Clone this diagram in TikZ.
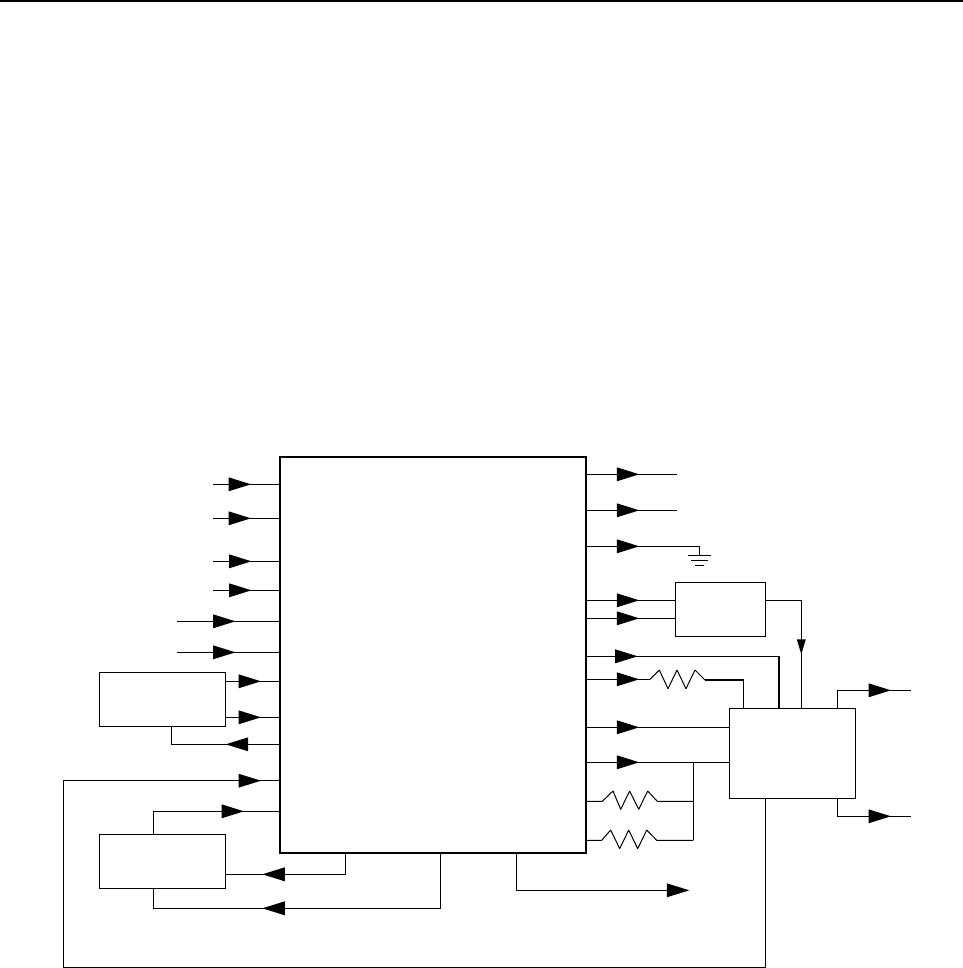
\documentclass[tikz,border=0pt]{standalone}
\tikzset{
  wire/.style={line width=0.85pt,line cap=butt,line join=miter},
  resistorwire/.style={line width=0.75pt,line join=bevel},
  chip/.style={draw,line width=1.6pt,outer sep=0pt,inner sep=0pt},
  block/.style={draw,line width=0.9pt,outer sep=0pt,inner sep=0pt},
  pics/headr/.style={code={\fill (1,0) -- (-21.5,-7) -- (-21.5,7) -- cycle;}},
  pics/headl/.style={code={\fill (-1,0) -- (21.5,-7) -- (21.5,7) -- cycle;}},
  pics/headd/.style={code={\fill (0,1) -- (-4.5,-14) -- (4.5,-14) -- cycle;}}
}
\begin{document}
\begin{tikzpicture}[x=0.75pt,y=-0.75pt]
\useasboundingbox (0,0) rectangle (963,968);
% top rule
\coordinate (ruleL) at (0,1);
\coordinate (ruleR) at (963,1);
\draw[line width=1.5pt] (ruleL) -- (ruleR);
% blocks
\node[chip,minimum width=305.7*0.75pt,minimum height=396*0.75pt,anchor=north west] (main) at (280,457) {};
\node[block,minimum width=126*0.75pt,minimum height=54*0.75pt,anchor=north west] (boxA) at (99.3,672.3) {};
\node[block,minimum width=126*0.75pt,minimum height=54*0.75pt,anchor=north west] (boxB) at (99.3,834.3) {};
\node[block,minimum width=90*0.75pt,minimum height=54*0.75pt,anchor=north west] (boxD) at (675.3,582.3) {};
\node[block,minimum width=126*0.75pt,minimum height=90*0.75pt,anchor=north west] (boxC) at (729.3,708.3) {};
% left free inputs
\foreach \n/\sx/\yy/\tip in {a/213/484.3/250,b/213/518.3/250,c/213/561.3/250.5,d/213/590.3/250.5,e/177/621.3/234.5,f/177/652.3/234.5}{
  \coordinate (in\n) at (\sx,\yy);
  \draw[wire] (in\n) -- (in\n -| main.west);
  \pic at (\tip,\yy) {headr};
}
% box A links
\coordinate (aOut1) at (225.3,681.3);
\coordinate (aOut2) at (225.3,717.3);
\draw[wire] (aOut1) -- (aOut1 -| main.west);
\pic at (260,681.3) {headr};
\draw[wire] (aOut2) -- (aOut2 -| main.west);
\pic at (260,717.3) {headr};
\coordinate (aBack) at (171.3,744.3);
\draw[wire] (main.west |- aBack) -- (aBack) -- (aBack |- boxA.south);
\pic at (226.7,744.3) {headl};
% long feedback from box C
\coordinate (fbA) at (765.7,967.7);
\coordinate (fbB) at (63.3,967.7);
\coordinate (fbC) at (63.3,780.7);
\draw[wire] (fbA |- boxC.south) -- (fbA) -- (fbB) -- (fbC) -- (fbC -| main.west);
\pic at (260,780.7) {headr};
% box B links
\coordinate (bUp) at (153.3,811.3);
\draw[wire] (bUp |- boxB.north) -- (bUp) -- (bUp -| main.west);
\pic at (243,811.3) {headr};
\coordinate (bR) at (345.7,874.3);
\draw[wire] (bR |- main.south) -- (bR) -- (bR -| boxB.east);
\pic at (263.3,874.3) {headl};
\coordinate (bLow) at (440.7,908.3);
\draw[wire] (bLow |- main.south) -- (bLow) -- (bLow -| bUp) -- (bUp |- boxB.south);
\pic at (263.3,908.3) {headl};
% bottom output
\coordinate (mOut) at (516.7,890.3);
\coordinate (mOutEnd) at (670,890.3);
\draw[wire] (mOut |- main.south) -- (mOut) -- (mOutEnd);
\pic at (688.3,890.3) {headr};
% right outputs
\coordinate (r1) at (676.7,474.3);
\coordinate (r2) at (676.7,510.3);
\draw[wire] (main.east |- r1) -- (r1);
\pic at (638.3,474.3) {headr};
\draw[wire] (main.east |- r2) -- (r2);
\pic at (638.3,510.3) {headr};
% ground
\coordinate (g0) at (699.3,546.3);
\coordinate (g1) at (699.3,555.3);
\draw[wire] (main.east |- g0) -- (g0) -- (g1);
\pic at (638.3,546.3) {headr};
\draw[wire] (688,555.3) -- (711,555.3);
\draw[wire] (690.7,560.3) -- (708,560.3);
\draw[wire] (695,565.3) -- (704,565.3);
% box D
\coordinate (d1) at (675.3,600.3);
\coordinate (d2) at (675.3,618.3);
\draw[wire] (main.east |- d1) -- (d1);
\pic at (638.3,600.3) {headr};
\draw[wire] (main.east |- d2) -- (d2);
\pic at (638.3,618.3) {headr};
\coordinate (dOut) at (801.3,600.3);
\draw[wire] (dOut -| boxD.east) -- (dOut) -- (dOut |- boxC.north);
\pic at (801.3,653.3) {headd};
% to box C top
\coordinate (t1) at (779,656.3);
\draw[wire] (main.east |- t1) -- (t1) -- (t1 |- boxC.north);
\pic at (636.7,656.3) {headr};
% resistor to box C
\coordinate (r3s) at (650,679.3);
\coordinate (r3e) at (705,680);
\coordinate (r3c) at (743.3,680);
\draw[wire] (main.east |- r3s) -- (r3s);
\pic at (638.3,679.3) {headr};
\draw[resistorwire] (r3s) -- (659.3,670) -- (668,688.7) -- (677,670) -- (686,688.7) -- (695,670) -- (r3e);
\draw[wire] (r3e) -- (r3c) -- (r3c |- boxC.north);
% box C left inputs
\coordinate (c1) at (729.3,727.3);
\coordinate (c2) at (729.3,762.3);
\draw[wire] (main.east |- c1) -- (c1);
\pic at (638.3,727.3) {headr};
\draw[wire] (main.east |- c2) -- (c2);
\pic at (638.3,762.3) {headr};
% parallel resistors
\coordinate (j0) at (693.3,762.3);
\coordinate (j1) at (693.3,801.3);
\coordinate (j2) at (693.3,840.3);
\draw[wire] (j0) -- (j2);
\draw[resistorwire] (main.east |- j1) -- (602.3,801.3) -- (613,791) -- (620.7,809.3) -- (629.7,791) -- (638.7,809.3) -- (647.7,791) -- (657.3,801.3) -- (j1);
\draw[resistorwire] (main.east |- j2) -- (601.7,840.3) -- (610.7,830) -- (619.7,848.7) -- (628.7,830) -- (637.7,848.7) -- (646.7,830) -- (656.7,840.3) -- (j2);
% box C outputs
\coordinate (o1a) at (837.3,690.3);
\coordinate (o1b) at (910.7,690.3);
\coordinate (o2a) at (837.3,816.3);
\coordinate (o2b) at (910.7,816.3);
\draw[wire] (o1a |- boxC.north) -- (o1a) -- (o1b);
\pic at (890,690.3) {headr};
\draw[wire] (o2a |- boxC.south) -- (o2a) -- (o2b);
\pic at (890,816.3) {headr};
\end{tikzpicture}
\end{document}
